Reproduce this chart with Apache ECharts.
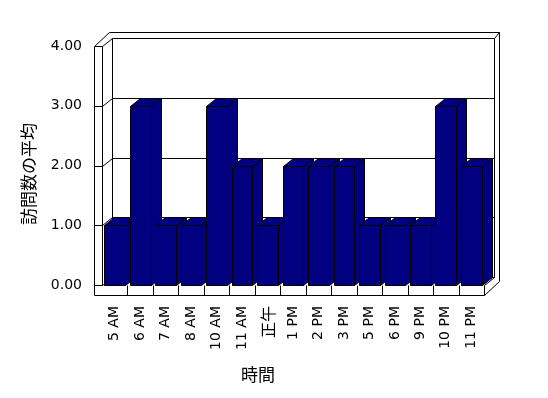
<!DOCTYPE html>
<html>
<head>
<meta charset="utf-8">
<script src="https://cdn.jsdelivr.net/npm/echarts@6/dist/echarts.min.js"></script>
<style>html,body{margin:0;padding:0;background:#fff;}#c{width:548px;height:398px;}</style>
</head>
<body>
<div id="c"></div>
<script>
const categories = ['5 AM','6 AM','7 AM','8 AM','10 AM','11 AM','正午','1 PM','2 PM','3 PM','5 PM','6 PM','9 PM','10 PM','11 PM'];
const visits = [1,3,1,1,3,2,1,2,2,2,1,1,1,3,2];
const yTicks = [0,1,2,3,4];
const yTitle = '訪問数の平均';
const xTitle = '時間';

const DX = 10, DY = -8;        // depth of the plot box
const TX = 5, TY = -6;         // back wall thickness
const WALL = 8;                // left wall thickness
const FLOOR = 10;              // floor thickness
const snap = v => Math.round(v) + 0.5;
const lineStyle = {stroke:'#000', lineWidth:1, fill:null};

const chart = echarts.init(document.getElementById('c'), null, {renderer:'canvas'});

function frameItem(params, api){
  const band = api.size([1,0])[0];
  const x0 = snap(api.coord([0,0])[0] - band/2);
  const x1 = snap(api.coord([categories.length-1,0])[0] + band/2);
  const y0 = snap(api.coord([0,yTicks[0]])[1]);
  const y4 = snap(api.coord([0,yTicks[yTicks.length-1]])[1]);
  const xw = x0 - WALL;
  const ch = [];
  const L = (a,b,c,d) => ch.push({type:'line', shape:{x1:a,y1:b,x2:c,y2:d}, style:lineStyle});
  ch.push({type:'polygon', shape:{points:[[xw,y4],[xw+DX+TX,y4+DY+TY],[x1+DX+TX,y4+DY+TY],[x1+DX+TX,y0+FLOOR+DY+TY],[x1,y0+FLOOR],[xw,y0+FLOOR]]}, style:{fill:'#fff'}});
  yTicks.forEach(t => {
    const y = snap(api.coord([0,t])[1]);
    L(x0+DX, y+DY, x1+DX, y+DY);
    L(xw, y, x0, y);
    L(x0, y, x0+DX, y+DY);
  });
  L(x0+DX, y4+DY, x0+DX, y0+DY);
  L(x1+DX, y4+DY, x1+DX, y0+DY);
  L(xw, y4, xw+DX+TX, y4+DY+TY);
  L(xw+DX+TX, y4+DY+TY, x1+DX+TX, y4+DY+TY);
  L(x1+DX, y4+DY, x1+DX+TX, y4+DY+TY);
  L(x1+DX+TX, y4+DY+TY, x1+DX+TX, y0+FLOOR+DY+TY);
  L(xw, y4, xw, y0+FLOOR);
  L(x0, y4, x0, y0);
  L(xw, y0+FLOOR, x1, y0+FLOOR);
  L(x1, y0, x1, y0+FLOOR);
  L(x1, y0, x1+DX, y0+DY);
  L(x1, y0+FLOOR, x1+DX+TX, y0+FLOOR+DY+TY);
  for (let k = 1; k < categories.length; k++) {
    const x = snap(api.coord([k,0])[0] - band/2);
    L(x, y0, x, y0+FLOOR);
  }
  return {type:'group', children:ch};
}

function barItem(params, api){
  const i = api.value(0), v = api.value(1);
  const band = api.size([1,0])[0];
  const c = api.coord([i, v]);
  const b = api.coord([i, 0]);
  const hw = band*0.405;
  const xl = snap(c[0]-hw), xr = snap(c[0]+hw);
  const yt = snap(c[1]), yb = snap(b[1]);
  const st = {fill:'#000080', stroke:'#000', lineWidth:1};
  return {type:'group', children:[
    {type:'polygon', shape:{points:[[xr,yt],[xr+DX,yt+DY],[xr+DX,yb+DY],[xr,yb]]}, style:st},
    {type:'polygon', shape:{points:[[xl,yt],[xr,yt],[xr+DX,yt+DY],[xl+DX,yt+DY]]}, style:st},
    {type:'rect', shape:{x:xl,y:yt,width:xr-xl,height:yb-yt}, style:st}
  ]};
}

chart.setOption({
  animation:false,
  backgroundColor:'#fff',
  grid:{left:102, right:64, top:46, bottom:113},
  xAxis:{
    type:'category', data:categories,
    axisLine:{show:false}, axisTick:{show:false}, splitLine:{show:false},
    axisLabel:{
      interval:0, rotate:90, margin:21, color:'#000', fontSize:14, fontFamily:'DejaVu Sans',
      formatter: v => /[^\x00-\x7f]/.test(v) ? '{cjk|' + v + '}' : v,
      rich:{cjk:{fontSize:16, fontFamily:'Noto Sans CJK JP', color:'#000'}}
    }
  },
  yAxis:{
    type:'value', min:yTicks[0], max:yTicks[yTicks.length-1], interval:1,
    axisLine:{show:false}, axisTick:{show:false}, splitLine:{show:false},
    axisLabel:{margin:20, color:'#000', fontSize:14, fontFamily:'DejaVu Sans', formatter: v => v.toFixed(2)}
  },
  graphic:[
    {type:'text', x:29, y:174, rotation:Math.PI/2, style:{text:yTitle, fill:'#000', font:'17px "Noto Sans CJK JP"', align:'center', verticalAlign:'middle'}},
    {type:'text', x:258, y:375, style:{text:xTitle, fill:'#000', font:'17px "Noto Sans CJK JP"', align:'center', verticalAlign:'middle'}}
  ],
  series:[
    {type:'custom', renderItem:frameItem, data:[[0,0]], clip:false, silent:true, z:1},
    {type:'custom', renderItem:barItem, data:categories.map((c,i)=>[i, visits[i]]), clip:false, z:2}
  ]
});
</script>
</body>
</html>
